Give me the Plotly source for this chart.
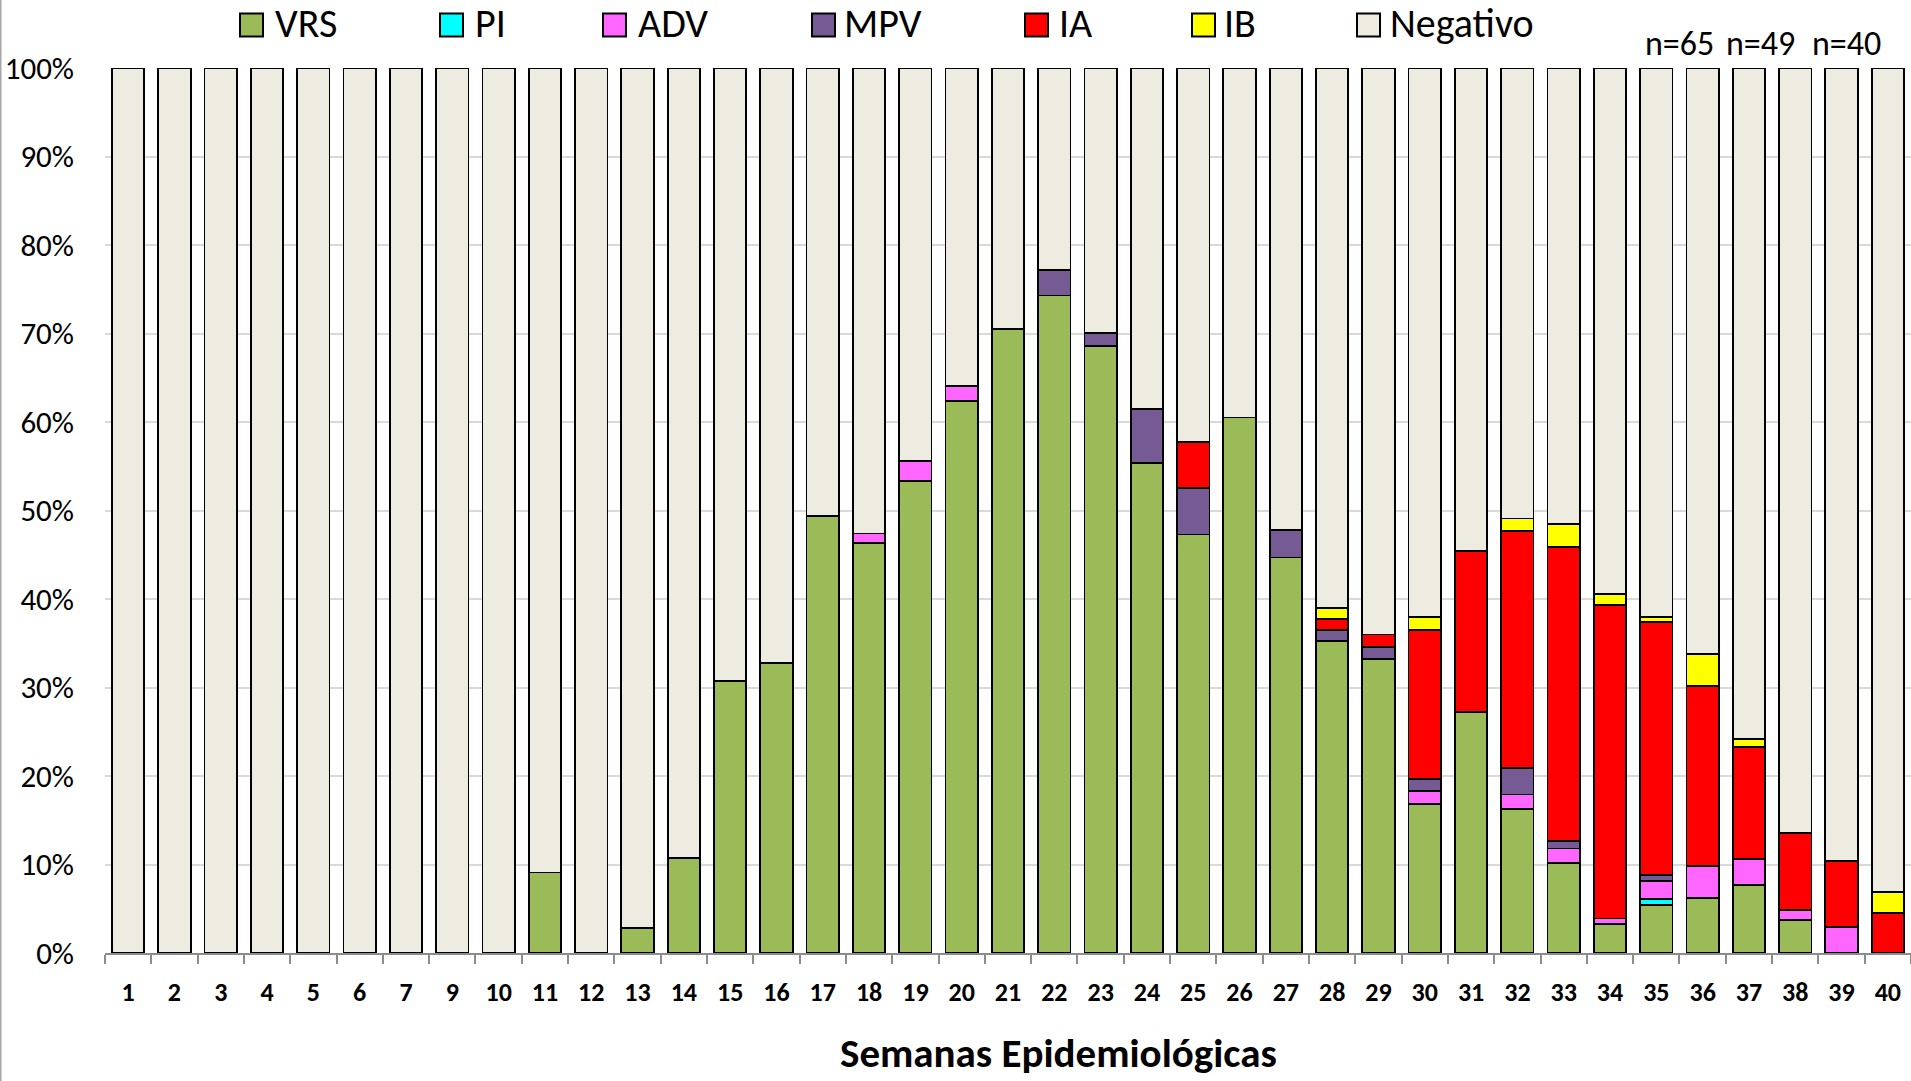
import plotly.graph_objects as go

weeks = ["1", "2", "3", "4", "5", "6", "7", "9", "10", "11", "12", "13", "14", "15",
         "16", "17", "18", "19", "20", "21", "22", "23", "24", "25", "26", "27", "28",
         "29", "30", "31", "32", "33", "34", "35", "36", "37", "38", "39", "40"]

#            1  2  3  4  5  6  7  9 10   11 12   13    14    15    16    17    18    19    20    21    22    23    24    25    26    27    28    29    30    31    32    33   34   35   36   37   38   39   40
vrs      = [0, 0, 0, 0, 0, 0, 0, 0, 0, 9.1, 0, 2.8, 10.7, 30.7, 32.8, 49.4, 46.3, 53.3, 62.4, 70.5, 74.3, 68.6, 55.4, 47.3, 60.5, 44.7, 35.3, 33.2, 16.8, 27.2, 16.3, 10.2, 3.3, 5.4, 6.2, 7.7, 3.7, 0, 0]
pi       = [0, 0, 0, 0, 0, 0, 0, 0, 0, 0, 0, 0, 0, 0, 0, 0, 0, 0, 0, 0, 0, 0, 0, 0, 0, 0, 0, 0, 0, 0, 0, 0, 0, 0.7, 0, 0, 0, 0, 0]
adv      = [0, 0, 0, 0, 0, 0, 0, 0, 0, 0, 0, 0, 0, 0, 0, 0, 1.1, 2.3, 1.7, 0, 0, 0, 0, 0, 0, 0, 0, 0, 1.5, 0, 1.6, 1.6, 0.6, 2.0, 3.6, 2.9, 1.2, 2.9, 0]
mpv      = [0, 0, 0, 0, 0, 0, 0, 0, 0, 0, 0, 0, 0, 0, 0, 0, 0, 0, 0, 0, 2.9, 1.5, 6.1, 5.2, 0, 3.1, 1.2, 1.4, 1.4, 0, 3.0, 0.9, 0, 0.7, 0, 0, 0, 0, 0]
ia       = [0, 0, 0, 0, 0, 0, 0, 0, 0, 0, 0, 0, 0, 0, 0, 0, 0, 0, 0, 0, 0, 0, 0, 5.2, 0, 0, 1.2, 1.4, 16.8, 18.2, 26.8, 33.2, 35.4, 28.6, 20.4, 12.7, 8.7, 7.5, 4.5]
ib       = [0, 0, 0, 0, 0, 0, 0, 0, 0, 0, 0, 0, 0, 0, 0, 0, 0, 0, 0, 0, 0, 0, 0, 0, 0, 0, 1.3, 0, 1.5, 0, 1.4, 2.6, 1.3, 0.6, 3.6, 0.9, 0, 0, 2.4]
negativo = [100, 100, 100, 100, 100, 100, 100, 100, 100, 90.9, 100, 97.2, 89.3, 69.3, 67.2, 50.6, 52.6, 44.4, 35.9, 29.5, 22.8, 29.9, 38.5, 42.3, 39.5, 52.2, 61.0, 64.0, 62.0, 54.6, 50.9, 51.5, 59.4, 62.0, 66.2, 75.8, 86.4, 89.6, 93.1]

series_names = ["VRS", "PI", "ADV", "MPV", "IA", "IB", "Negativo"]
series_vals = [vrs, pi, adv, mpv, ia, ib, negativo]
series_cols = ["#9BBB59", "#00FFFF", "#FF66FF", "#765A94", "#FF0000", "#FFFF00", "#EEEBE0"]

n_labels = ["n=65", "n=49", "n=40"]

W, H = 1911, 1081
L, R, T, B = 105, 0, 68, 128
PW, PH = W - L - R, H - T - B
FONT = "Carlito, Calibri, Lato, sans-serif"


def px_x(px):
    return (px - L) / PW


def px_y(py):
    return (H - B - py) / PH


fig = go.Figure()
for name, vals, col in zip(series_names, series_vals, series_cols):
    fig.add_trace(go.Bar(
        x=weeks, y=vals, name=name,
        marker=dict(color=col, line=dict(color="black", width=1.8)),
        showlegend=False,
    ))

shapes = []
annotations = []

# custom legend
leg_sq = [240, 440, 603, 812, 1025, 1192, 1357]
leg_tx = [276, 476, 639, 845, 1060, 1225, 1391]
leg_y = 25
for name, col, sx, tx in zip(series_names, series_cols, leg_sq, leg_tx):
    shapes.append(dict(type="rect", xref="paper", yref="paper",
                       x0=px_x(sx), x1=px_x(sx + 23),
                       y0=px_y(leg_y + 11.5), y1=px_y(leg_y - 11.5),
                       fillcolor=col, line=dict(color="black", width=2)))
    annotations.append(dict(text=name, xref="paper", yref="paper",
                            x=px_x(tx - 3), y=px_y(leg_y - 1), xanchor="left", yanchor="middle",
                            showarrow=False, font=dict(family=FONT, size=40, color="black")))

# n labels
for lab, cx in zip(n_labels, [1679, 1760, 1846]):
    annotations.append(dict(text=lab, xref="paper", yref="paper",
                            x=px_x(cx), y=px_y(44), xanchor="center", yanchor="middle",
                            showarrow=False, font=dict(family=FONT, size=34, color="black")))

# axis title
annotations.append(dict(text="<b>Semanas Epidemiológicas</b>", xref="paper", yref="paper",
                        x=px_x(1058), y=px_y(1053), xanchor="center", yanchor="middle",
                        showarrow=False, font=dict(family=FONT, size=41, color="black")))

# chart border on the left edge
shapes.append(dict(type="line", xref="paper", yref="paper",
                   x0=px_x(0.5), x1=px_x(0.5), y0=px_y(H), y1=px_y(0),
                   line=dict(color="#A6A6A6", width=2)))

fig.update_layout(
    width=W, height=H,
    margin=dict(l=L, r=R, t=T, b=B, autoexpand=False),
    barmode="stack", bargap=0.3,
    plot_bgcolor="white", paper_bgcolor="white",
    font=dict(family=FONT, color="black"),
    shapes=shapes, annotations=annotations,
    xaxis=dict(type="category", tickson="boundaries", ticks="outside", ticklen=9,
               tickcolor="#8C8C8C", tickwidth=2, showline=True, linecolor="#8C8C8C",
               linewidth=2, tickfont=dict(family=FONT, size=26, color="black", weight="bold"),
               ticklabelstandoff=15, showgrid=False),
    yaxis=dict(range=[0, 100], dtick=10, ticksuffix="%", showgrid=True,
               gridcolor="#D9D9D9", gridwidth=2, zeroline=False, showline=False,
               tickfont=dict(family=FONT, size=31, color="black"),
               ticklabelstandoff=30),
)

fig.write_html("out.html", config={"displayModeBar": False},
               post_script="document.body.style.margin='0';document.body.style.overflow='hidden';")
